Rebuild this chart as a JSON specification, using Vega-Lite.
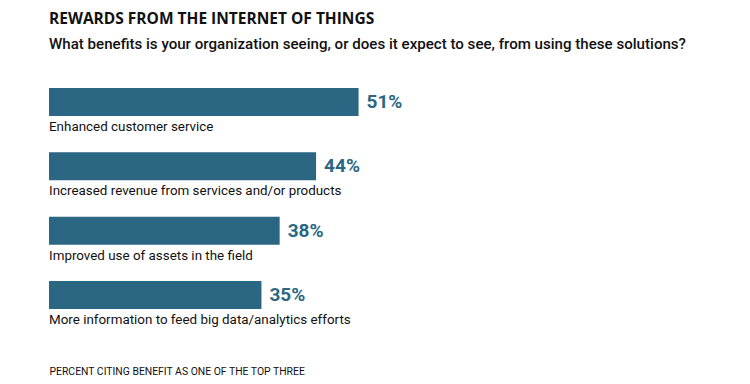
{
  "$schema": "https://vega.github.io/schema/vega-lite/v6.json",
  "width": 607,
  "height": 221,
  "autosize": {"type": "none"},
  "padding": {"left": 49, "top": 88, "right": 94, "bottom": 75},
  "background": "white",
  "title": {
    "text": "REWARDS FROM THE INTERNET OF THINGS",
    "subtitle": "What benefits is your organization seeing, or does it expect to see, from using these solutions?",
    "anchor": "start",
    "frame": "group",
    "font": "Open Sans",
    "fontSize": 15.5,
    "fontWeight": "bold",
    "color": "#111111",
    "subtitleFont": "Roboto",
    "subtitleFontSize": 15.1,
    "subtitleFontWeight": 500,
    "subtitleColor": "#111111",
    "subtitlePadding": 9,
    "offset": 36
  },
  "data": {
    "values": [
      {"benefit": "Enhanced customer service", "pct": 51, "label": "51%"},
      {"benefit": "Increased revenue from services and/or products", "pct": 44, "label": "44%"},
      {"benefit": "Improved use of assets in the field", "pct": 38, "label": "38%"},
      {"benefit": "More information to feed big data/analytics efforts", "pct": 35, "label": "35%"}
    ]
  },
  "encoding": {
    "y": {
      "field": "benefit",
      "type": "nominal",
      "sort": null,
      "axis": null,
      "scale": {"paddingInner": 0.5645, "paddingOuter": 0}
    },
    "x": {
      "field": "pct",
      "type": "quantitative",
      "scale": {"domain": [0, 100]},
      "axis": {
        "title": "PERCENT CITING BENEFIT AS ONE OF THE TOP THREE",
        "labels": false,
        "ticks": false,
        "domain": false,
        "grid": false,
        "titleAnchor": "start",
        "titleAlign": "left",
        "titleFont": "Roboto",
        "titleFontSize": 10.4,
        "titleFontWeight": "normal",
        "titleColor": "#111111",
        "titlePadding": 57
      }
    }
  },
  "layer": [
    {"mark": {"type": "bar", "color": "#2b6783"}},
    {
      "mark": {"type": "text", "align": "left", "baseline": "alphabetic", "dx": 8, "dy": 6, "font": "Roboto", "fontSize": 19, "fontWeight": "bold", "color": "#2b6783"},
      "encoding": {"text": {"field": "label"}}
    },
    {
      "mark": {"type": "text", "align": "left", "baseline": "alphabetic", "dy": 29, "font": "Roboto", "fontSize": 13.4, "color": "#111111"},
      "encoding": {"x": {"datum": 0}, "text": {"field": "benefit"}}
    }
  ],
  "config": {"view": {"stroke": null}}
}
